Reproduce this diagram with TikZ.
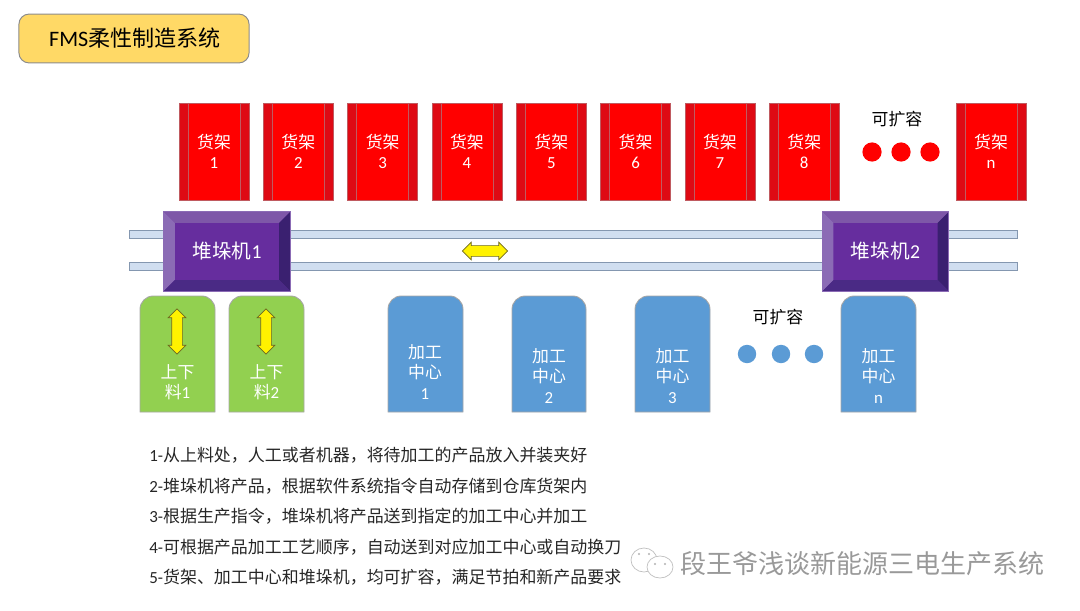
\documentclass[tikz,border=0pt]{standalone}
\usepackage{fontspec}
\setmainfont{Noto Sans CJK SC}
\newfontfamily\latfont{Carlito}
\usetikzlibrary{calc,shapes.arrows}
\definecolor{titlegold}{HTML}{FFD966}
\definecolor{shelfred}{HTML}{FF0000}
\definecolor{shelfdark}{HTML}{DE0A14}
\definecolor{shelfline}{HTML}{C05A60}
\definecolor{railblue}{HTML}{D0DEF0}
\definecolor{railline}{HTML}{8497B0}
\definecolor{loadgreen}{HTML}{92D050}
\definecolor{centerblue}{HTML}{5B9BD5}
\definecolor{stackpurple}{HTML}{662D9E}
\definecolor{stacktop}{HTML}{7E57A8}
\definecolor{stackleft}{HTML}{8B6BB5}
\definecolor{stackright}{HTML}{3A2070}
\definecolor{stackbottom}{HTML}{4A2A85}
\tikzset{
  title/.style={draw=black!45,fill=titlegold,line width=0.7pt,rounded corners=0.25cm,minimum width=5.75cm,minimum height=1.22cm,inner sep=0pt,font=\fontsize{15.7}{18}\selectfont},
  shelf/.style={draw=shelfline,fill=shelfdark,minimum width=1.75cm,minimum height=2.425cm,inner sep=0pt,text=white,align=center,font=\fontsize{12}{14.5}\selectfont,
    path picture={
      \fill[shelfred] ($(path picture bounding box.north west)+(9,0)$) rectangle ($(path picture bounding box.south east)+(-9,0)$);
      \draw[shelfline,line width=0.4pt] ($(path picture bounding box.north west)+(9,0)$) -- ($(path picture bounding box.south west)+(9,0)$);
      \draw[shelfline,line width=0.4pt] ($(path picture bounding box.north east)+(-9,0)$) -- ($(path picture bounding box.south east)+(-9,0)$);}},
  rail/.style={draw=railline,fill=railblue,line width=0.6pt,minimum width=22.175cm,minimum height=0.2cm,inner sep=0pt},
  stacker/.style={draw=stackleft,fill=stackpurple,line width=0.7pt,minimum width=3.15cm,minimum height=1.975cm,inner sep=0pt,text=white,font=\fontsize{14}{16}\selectfont,
    path picture={
      \coordinate (nw) at (path picture bounding box.north west);
      \coordinate (ne) at (path picture bounding box.north east);
      \coordinate (sw) at (path picture bounding box.south west);
      \coordinate (se) at (path picture bounding box.south east);
      \fill[stacktop] (nw) -- (ne) -- ($(ne)+(-11,11)$) -- ($(nw)+(11,11)$) -- cycle;
      \fill[stackleft] (nw) -- (sw) -- ($(sw)+(11,-11)$) -- ($(nw)+(11,11)$) -- cycle;
      \fill[stackright] (ne) -- (se) -- ($(se)+(-11,-11)$) -- ($(ne)+(-11,11)$) -- cycle;
      \fill[stackbottom] (sw) -- (se) -- ($(se)+(-11,-11)$) -- ($(sw)+(11,-11)$) -- cycle;}},
  tabbody/.style={draw=black!35,line width=0.6pt},
  tabtext/.style={text=white,align=center,inner sep=0pt,font=\fontsize{12}{14.5}\selectfont},
  hmove/.style={shape=double arrow,draw=olive!70!black,fill=yellow,line width=0.5pt,inner xsep=0pt,inner ysep=0.125cm,minimum width=0.425cm,minimum height=1.13cm,double arrow head extend=0.0875cm},
  vmove/.style={hmove,shape border rotate=90,inner xsep=0.125cm,inner ysep=0pt},
  reddot/.style={circle,fill=red,minimum size=0.48cm,inner sep=0pt},
  bluedot/.style={circle,fill=centerblue,minimum size=0.46cm,inner sep=0pt},
  note/.style={inner sep=0pt,font=\fontsize{12}{14}\selectfont},
  stepline/.style={anchor=west,inner sep=0pt,text=black!85,font=\fontsize{12.07}{14}\selectfont},
  mark text/.style={inner sep=0pt,text=black!40,font=\fontsize{18.5}{20}\selectfont},
  mark bubble/.style={draw=black!25,fill=white,line width=0.5pt}
}
\newcommand{\tabshape}[3]{% left, right, colour
  \draw[tabbody,fill=#3] (#1,412) [rounded corners=0.33cm] -- (#1,296) -- (#2,296) -- (#2,350) [sharp corners] -- (#2,412) -- cycle;}
\begin{document}
\begin{tikzpicture}[x=0.025cm,y=-0.025cm,node distance=2.1075cm]
\useasboundingbox (0,0) rectangle (1080,611);
\node [title] (t) at (134,38.5) {\hspace{0.05cm}{\latfont FMS}柔性制造系统};
% shelves
\node [shelf] (s1) at (214,151.5) {货架\\{\latfont 1}};
\node [shelf,right of=s1] (s2) {货架\\{\latfont 2}};
\node [shelf,right of=s2] (s3) {货架\\{\latfont 3}};
\node [shelf,right of=s3] (s4) {货架\\{\latfont 4}};
\node [shelf,right of=s4] (s5) {货架\\{\latfont 5}};
\node [shelf,right of=s5] (s6) {货架\\{\latfont 6}};
\node [shelf,right of=s6] (s7) {货架\\{\latfont 7}};
\node [shelf,right of=s7] (s8) {货架\\{\latfont 8}};
\node [shelf] (sn) at (991,151.5) {货架\\{\latfont n}};
\node [note] (e1) at (897,119) {可扩容};
\node [reddot] (d1) at (872,152) {};
\node [reddot] (d2) at (901,152) {};
\node [reddot] (d3) at (930,152) {};
% rails and stackers
\node [rail] (r1) at (573.5,234) {};
\node [rail] (r2) at (573.5,266) {};
\node [stacker] (m1) at (227,251.5) {堆垛机{\latfont 1}};
\node [stacker] (m2) at (885.5,251.5) {堆垛机{\latfont 2}};
\node [hmove] (h) at (485,251) {};
% loading stations
\tabshape{140}{215}{loadgreen}
\tabshape{229}{304}{loadgreen}
\node [tabtext] (l1) at (177.5,382) {上下\\料{\latfont 1}};
\node [tabtext] (l2) at (266.5,382) {上下\\料{\latfont 2}};
\node [vmove] (v1) at (177,331.5) {};
\node [vmove] (v2) at (266,331.5) {};
% machining centres
\tabshape{388}{463}{centerblue}
\tabshape{512}{586}{centerblue}
\tabshape{635}{710}{centerblue}
\tabshape{841}{916}{centerblue}
\node [tabtext] (c1) at (425,372) {加工\\中心\\{\latfont 1}};
\node [tabtext] (c2) at (549,376) {加工\\中心\\{\latfont 2}};
\node [tabtext] (c3) at (672.5,376) {加工\\中心\\{\latfont 3}};
\node [tabtext] (cn) at (878.5,376) {加工\\中心\\{\latfont n}};
\node [note] (e2) at (778,317) {可扩容};
\node [bluedot] (b1) at (747,354) {};
\node [bluedot] (b2) at (781,354) {};
\node [bluedot] (b3) at (814,354) {};
% notes
\node [stepline] (n1) at (149,455) {{\latfont 1-}从上料处，人工或者机器，将待加工的产品放入并装夹好};
\node [stepline] (n2) at (149,486) {{\latfont 2-}堆垛机将产品，根据软件系统指令自动存储到仓库货架内};
\node [stepline] (n3) at (149,516) {{\latfont 3-}根据生产指令，堆垛机将产品送到指定的加工中心并加工};
\node [stepline] (n4) at (149,547) {{\latfont 4-}可根据产品加工工艺顺序，自动送到对应加工中心或自动换刀};
\node [stepline] (n5) at (149,577) {{\latfont 5-}货架、加工中心和堆垛机，均可扩容，满足节拍和新产品要求};
% watermark
\draw [mark bubble] (644,560) ellipse (13 and 12);
\draw [mark bubble] (660,567) ellipse (13 and 11);
\fill [black!30] (639,554) circle (1.2) (649,554) circle (1.2) (655,564) circle (1.2) (665,564) circle (1.2);
\node [mark text] (w) at (862.5,564) {段王爷浅谈新能源三电生产系统};
\end{tikzpicture}
\end{document}
